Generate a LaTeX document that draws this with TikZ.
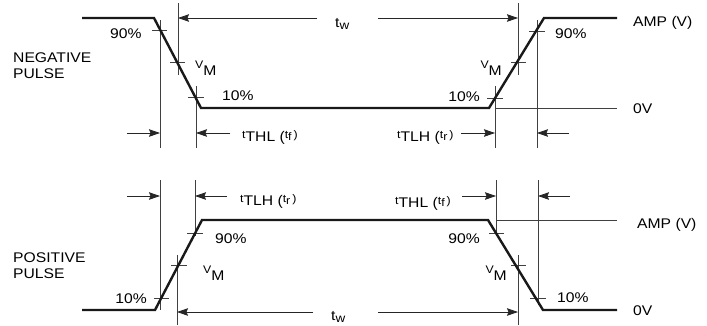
\documentclass[tikz,border=0pt]{standalone}
\usepackage{fontspec}
\setmainfont{Liberation Sans}
\usetikzlibrary{arrows.meta}
\newcommand{\smf}[1]{{\fontsize{11}{11}\selectfont #1}}
\newcommand{\T}[1]{\scalebox{1.12}[1]{#1}}
\newcommand{\ltTHL}{\raisebox{3pt}{\smf{t}}THL (\raisebox{3pt}{\smf{t}}\raisebox{0.5pt}{\smf{f}}\raisebox{2.5pt}{\smf{\,)}}}
\newcommand{\ltTLH}{\raisebox{3pt}{\smf{t}}TLH (\raisebox{3pt}{\smf{t}}\raisebox{0.5pt}{\smf{r}}\raisebox{2.5pt}{\smf{\,)}}}
\newcommand{\lVM}{\raisebox{7pt}{\smf{V}}M}
\newcommand{\ltw}{t\raisebox{-2pt}{{\fontsize{12}{12}\selectfont w}}}
\begin{document}
\begin{tikzpicture}[x=1pt,y=-1pt,
  pulse/.style={line width=2.4pt, line join=miter, black!90},
  thinl/.style={line width=0.75pt, black!75},
  dim/.style={line width=0.75pt, black!85, -{Stealth[length=11pt,width=7.5pt,inset=1.5pt]}},
  lbl/.style={inner sep=0pt, font=\fontsize{14}{16}\selectfont, text=black},
  lw/.style={lbl, anchor=base west},
  le/.style={lbl, anchor=base east}]
\useasboundingbox (0,0) rectangle (707,325);

% ===== NEGATIVE PULSE (top) =====
\coordinate (n0) at (82,18);
\coordinate (n1) at (154,18);
\coordinate (n2) at (201,108);
\coordinate (n3) at (489,108);
\coordinate (n4) at (544,18);
\coordinate (n5) at (617,18);
% reference lines
\draw[thinl] (495,108) -- (617,108);
% verticals
\draw[thinl] (160,20) -- (160,148);
\draw[thinl] (178,3) -- (178,75);
\draw[thinl] (196,86) -- (196,148);
\draw[thinl] (495,86) -- (495,148);
\draw[thinl] (518,3) -- (518,75);
\draw[thinl] (537,20) -- (537,148);
% ticks
\draw[thinl] (152,30) -- (167,30);
\draw[thinl] (170,62) -- (185,62);
\draw[thinl] (188,97) -- (204,97);
\draw[thinl] (487,98) -- (503,98);
\draw[thinl] (511,62) -- (526,62);
\draw[thinl] (529,31) -- (545,31);
% pulse
\draw[pulse] (n0) -- (n1) -- (n2) -- (n3) -- (n4) -- (n5);
% dimension arrows
\draw[dim] (317,18) -- (178,18);
\draw[dim] (378,18) -- (518,18);
\draw[dim] (127,133) -- (160,133);
\draw[dim] (230,133) -- (196,133);
\draw[dim] (461,133) -- (495,133);
\draw[dim] (569,133) -- (537,133);
% labels
\node[lw] (tn90l) at (110,38) {\T{90\%}};
\node[lw] (tneg) at (13,62) {\T{NEGATIVE}};
\node[lw] (tnpul) at (13,78) {\T{PULSE}};
\node[lw] (tnvml) at (195,75) {\T{\lVM}};
\node[lw] (tn10l) at (222,100) {\T{10\%}};
\node[lw] (tnthl) at (242,141) {\T{\ltTHL}};
\node[lw] (tntw) at (335,27) {\T{\ltw}};
\node[lw] (tntlh) at (397,141) {\T{\ltTLH}};
\node[le] (tnvmr) at (502,75) {\T{\lVM}};
\node[le] (tn10r) at (480,101) {\T{10\%}};
\node[lw] (tn90r) at (555,38) {\T{90\%}};
\node[lw] (tnamp) at (633,26) {\T{AMP (V)}};
\node[lw] (tn0v) at (633,113) {\T{0V}};

% ===== POSITIVE PULSE (bottom) =====
\coordinate (p0) at (82,310);
\coordinate (p1) at (155,310);
\coordinate (p2) at (202,220);
\coordinate (p3) at (488,220);
\coordinate (p4) at (543,310);
\coordinate (p5) at (617,310);
% reference line
\draw[thinl] (496,220) -- (617,220);
% verticals
\draw[thinl] (160,180) -- (160,310);
\draw[thinl] (195,180) -- (195,236);
\draw[thinl] (177,255) -- (177,325);
\draw[thinl] (496,180) -- (496,236);
\draw[thinl] (538,180) -- (538,305);
\draw[thinl] (518,255) -- (518,325);
% ticks
\draw[thinl] (187,233) -- (203,233);
\draw[thinl] (171,265) -- (187,265);
\draw[thinl] (154,298) -- (169,298);
\draw[thinl] (489,233) -- (504,233);
\draw[thinl] (511,265) -- (526,265);
\draw[thinl] (530,298) -- (546,298);
% pulse
\draw[pulse] (p0) -- (p1) -- (p2) -- (p3) -- (p4) -- (p5);
% dimension arrows
\draw[dim] (127,196) -- (160,196);
\draw[dim] (227,196) -- (195,196);
\draw[dim] (462,196) -- (496,196);
\draw[dim] (570,196) -- (538,196);
\draw[dim] (313,312) -- (177,312);
\draw[dim] (378,312) -- (518,312);
% labels
\node[lw] (bptlh) at (240,205) {\T{\ltTLH}};
\node[lw] (bp90l) at (215,243) {\T{90\%}};
\node[lw] (bppos) at (13,262) {\T{POSITIVE}};
\node[lw] (bppul) at (13,278) {\T{PULSE}};
\node[lw] (bpvml) at (203,280) {\T{\lVM}};
\node[le] (bp10l) at (147,303) {\T{10\%}};
\node[lw] (bptw) at (331,320) {\T{\ltw}};
\node[lw] (bpthl) at (395,207) {\T{\ltTHL}};
\node[le] (bp90r) at (480,243) {\T{90\%}};
\node[le] (bpvmr) at (507,280) {\T{\lVM}};
\node[lw] (bp10r) at (557,302) {\T{10\%}};
\node[lw] (bpamp) at (637,228) {\T{AMP (V)}};
\node[lw] (bp0v) at (633,315) {\T{0V}};
\end{tikzpicture}
\end{document}
